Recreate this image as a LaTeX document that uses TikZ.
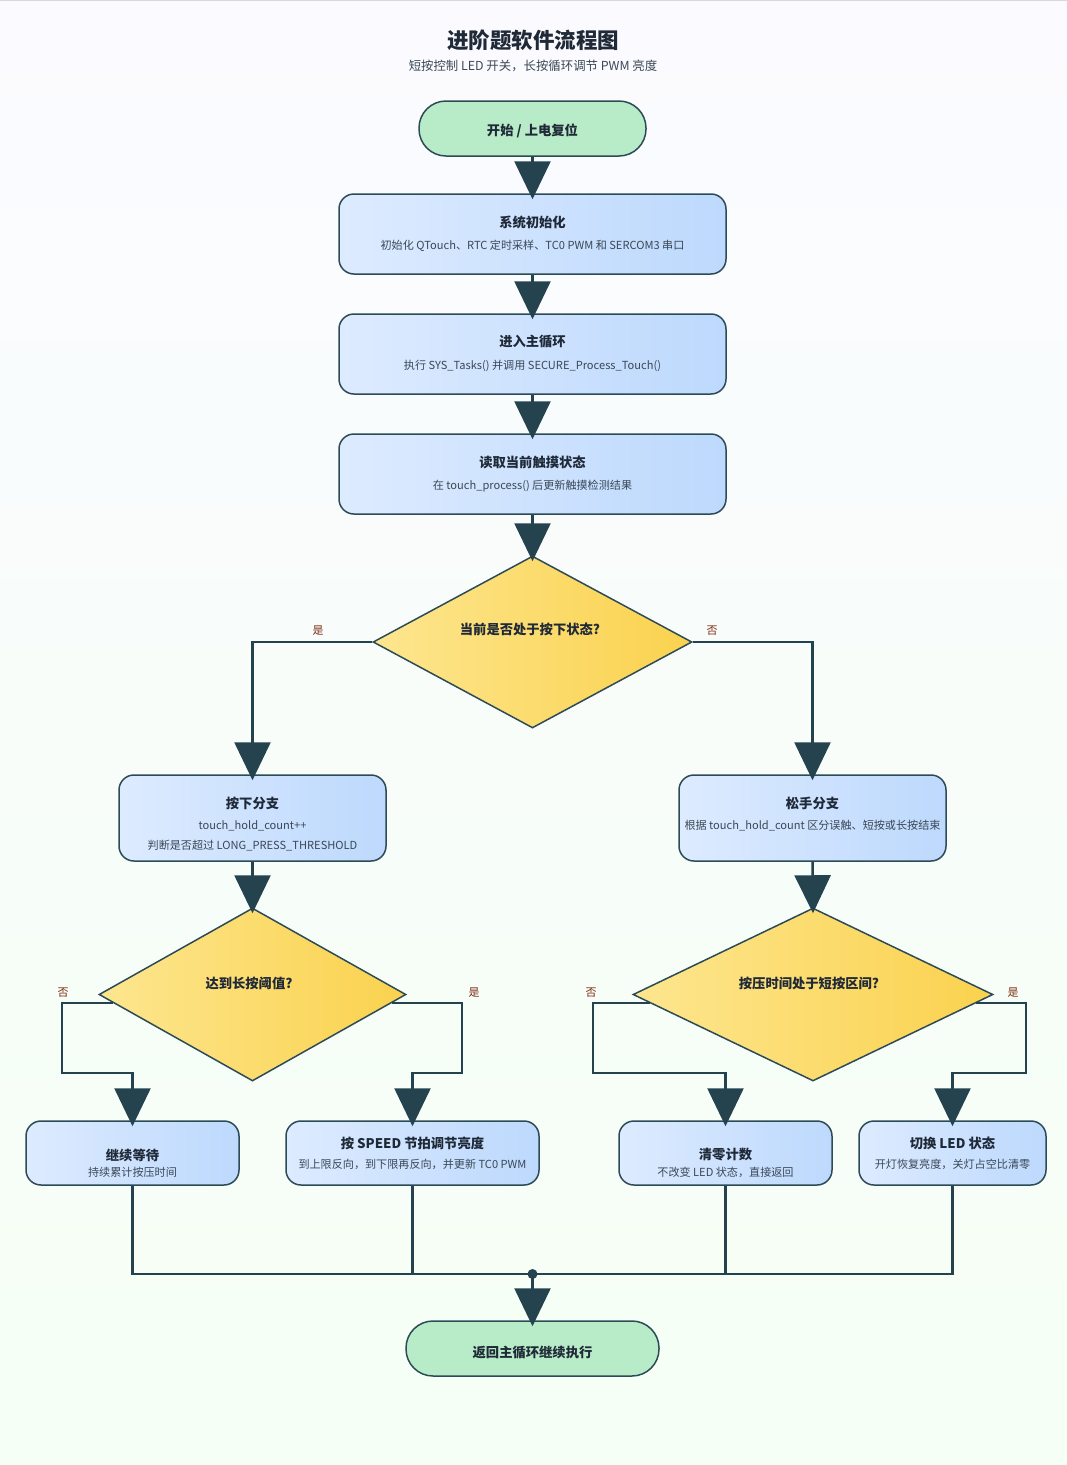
\documentclass[tikz,border=0pt]{standalone}
\usepackage{fontspec}
\setmainfont{Noto Sans CJK SC}
\usetikzlibrary{arrows.meta,shapes.geometric}
\definecolor{bordc}{HTML}{2D4B57}
\definecolor{arrc}{HTML}{24434F}
\definecolor{greenf}{HTML}{B8EBC8}
\definecolor{blueL}{HTML}{DDEBFF}
\definecolor{blueR}{HTML}{BDD9FD}
\definecolor{yelL}{HTML}{FDE68F}
\definecolor{yelR}{HTML}{FAD24E}
\definecolor{titc}{HTML}{1F2937}
\definecolor{subc}{HTML}{3A4756}
\definecolor{labc}{HTML}{7C2D12}
\tikzset{
  x=1pt, y=-1pt,
  pill/.style={draw=bordc, line width=1.5pt, rounded corners=27pt, fill=greenf, minimum width=227pt, minimum height=55pt, inner sep=0pt},
  bbox/.style={draw=bordc, line width=1.5pt, rounded corners=15pt, left color=blueL, right color=blueR, inner sep=0pt},
  dia/.style={diamond, draw=bordc, line width=1.5pt, left color=yelL, right color=yelR, inner sep=0pt},
  ttl/.style={font=\bfseries\fontsize{13.3}{15}\selectfont, text=titc, inner sep=0pt},
  sub/.style={font=\fontsize{11.1}{12}\selectfont, text=subc, inner sep=0pt},
  lab/.style={font=\fontsize{11}{12}\selectfont, text=labc, inner sep=0pt},
  flow/.style={draw=arrc, line width=2.5pt, -{Triangle[length=38pt,width=36pt]}},
  wire/.style={draw=arrc, line width=2.5pt},
}
\begin{document}
\begin{tikzpicture}
\useasboundingbox (0,0) rectangle (1067,1465);
\shade[top color=white!60!blue!4, bottom color=green!4, shading angle=0] (0,0) rectangle (1067,1465);
\draw[gray!30, line width=0.8pt] (0,0.5) -- (1067,0.5);

% title
\node[font=\bfseries\fontsize{21.5}{24}\selectfont, text=titc] (title) at (533,40) {进阶题软件流程图};
\node[font=\fontsize{12.4}{14}\selectfont, text=subc] (subtitle) at (533,66) {短按控制 LED 开关，长按循环调节 PWM 亮度};

% nodes
\node[pill] (start) at (532.5,128.5) {};
\node[ttl] at (532.5,131) {开始 / 上电复位};

\node[bbox, minimum width=387pt, minimum height=80pt] (b1) at (532.5,234) {};
\node[ttl] at (532.5,222) {系统初始化};
\node[sub] at (532.5,246) {初始化 QTouch、RTC 定时采样、TC0 PWM 和 SERCOM3 串口};

\node[bbox, minimum width=387pt, minimum height=80pt] (b2) at (532.5,354) {};
\node[ttl] at (532.5,342) {进入主循环};
\node[sub] at (532.5,366) {执行 SYS\_Tasks() 并调用 SECURE\_Process\_Touch()};

\node[bbox, minimum width=387pt, minimum height=80pt] (b3) at (532.5,474) {};
\node[ttl] at (532.5,462) {读取当前触摸状态};
\node[sub] at (532.5,486) {在 touch\_process() 后更新触摸检测结果};

\node[dia, minimum width=319pt, minimum height=172pt] (d1) at (532.5,642) {};
\node[ttl] at (530,629) {当前是否处于按下状态?};

\node[bbox, minimum width=267pt, minimum height=86pt] (bl) at (252.5,818) {};
\node[ttl] at (252.5,803) {按下分支};
\node[sub] at (252.5,826) {touch\_hold\_count++};
\node[sub] at (252.5,846) {判断是否超过 LONG\_PRESS\_THRESHOLD};

\node[bbox, minimum width=267pt, minimum height=86pt] (br) at (812.5,818) {};
\node[ttl] at (812.5,803) {松手分支};
\node[sub] at (812.5,826) {根据 touch\_hold\_count 区分误触、短按或长按结束};

\node[dia, minimum width=307pt, minimum height=173pt] (d2) at (252.5,994.5) {};
\node[ttl] at (249,983) {达到长按阈值?};

\node[dia, minimum width=360pt, minimum height=173pt] (d3) at (813,994.5) {};
\node[ttl] at (809,983) {按压时间处于短按区间?};

\node[bbox, minimum width=213pt, minimum height=64pt] (wait) at (132.5,1153) {};
\node[ttl] at (132.5,1155) {继续等待};
\node[sub] at (132.5,1172) {持续累计按压时间};

\node[bbox, minimum width=253pt, minimum height=64pt] (speed) at (412.5,1153) {};
\node[ttl] at (412.5,1143) {按 SPEED 节拍调节亮度};
\node[sub] at (412.5,1164) {到上限反向，到下限再反向，并更新 TC0 PWM};

\node[bbox, minimum width=213pt, minimum height=64pt] (clear) at (725.5,1153) {};
\node[ttl] at (725.5,1155) {清零计数};
\node[sub] at (725.5,1172) {不改变 LED 状态，直接返回};

\node[bbox, minimum width=187pt, minimum height=64pt] (toggle) at (952.5,1153) {};
\node[ttl] at (952.5,1143) {切换 LED 状态};
\node[sub] at (952.5,1164) {开灯恢复亮度，关灯占空比清零};

\node[pill, minimum width=253pt] (end) at (532.5,1348.5) {};
\node[ttl] at (532.5,1352) {返回主循环继续执行};

% diamond exit points
\coordinate (d2no) at (113,1003);
\coordinate (d2yes) at (392,1003);
\coordinate (d3no) at (650,1003);
\coordinate (d3yes) at (976,1003);

% connectors
\draw[flow] (start.south) -- ([yshift=-6pt]b1.north);
\draw[flow] (b1.south) -- ([yshift=-6pt]b2.north);
\draw[flow] (b2.south) -- ([yshift=-6pt]b3.north);
\draw[flow] (b3.south) -- ([yshift=-6pt]d1.north);
\draw[flow] (d1.west) -| ([yshift=-6pt]bl.north);
\draw[flow] (d1.east) -| ([yshift=-6pt]br.north);
\draw[flow] (bl.south) -- ([yshift=-6pt]d2.north);
\draw[flow] (br.south) -- ([yshift=-6pt]d3.north);

\draw[flow] (d2no) -- (62,1003) -- (62,1073) -| ([yshift=-6pt]wait.north);
\draw[flow] (d2yes) -- (462,1003) -- (462,1073) -| ([yshift=-6pt]speed.north);
\draw[flow] (d3no) -- (593,1003) -- (593,1073) -| ([yshift=-6pt]clear.north);
\draw[flow] (d3yes) -- (1026,1003) -- (1026,1073) -| ([yshift=-6pt]toggle.north);

\node[circle, fill=arrc, minimum size=10pt, inner sep=0pt] (join) at (532.5,1274) {};
\draw[wire] (wait.south) |- (join.center);
\draw[wire] (toggle.south) |- (join.center);
\draw[wire] (speed.south) -- (speed.south |- join.center);
\draw[wire] (clear.south) -- (clear.south |- join.center);
\draw[flow] (join.center) -- ([yshift=-6pt]end.north);

% labels
\node[lab] at (318,631) {是};
\node[lab] at (712,631) {否};
\node[lab] at (63,993) {否};
\node[lab] at (474,993) {是};
\node[lab] at (591,993) {否};
\node[lab] at (1013,993) {是};
\end{tikzpicture}
\end{document}
